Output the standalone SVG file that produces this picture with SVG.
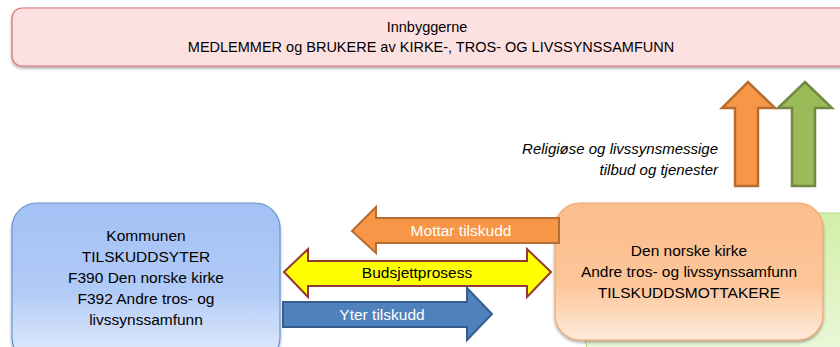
<svg xmlns="http://www.w3.org/2000/svg" width="840" height="347" viewBox="0 0 840 347">
<defs>
<style>
text{font-family:"Liberation Sans",Arial,sans-serif;fill:#000}
.t{font-size:14.5px;text-anchor:middle}
.b{font-size:15.5px;text-anchor:middle}
.w{fill:#fff;font-size:15.5px;text-anchor:middle}
.i{font-size:15px;font-style:italic;text-anchor:end}
</style>
<linearGradient id="gBlue" x1="0" y1="0" x2="0" y2="1">
<stop offset="0" stop-color="#a3c1f5"/><stop offset="0.55" stop-color="#b1cbf7"/><stop offset="1" stop-color="#e4edfc"/>
</linearGradient>
<linearGradient id="gOr" x1="0" y1="0" x2="0" y2="1">
<stop offset="0" stop-color="#fbbd8c"/><stop offset="0.6" stop-color="#fcc69a"/><stop offset="1" stop-color="#feeadb"/>
</linearGradient>
<linearGradient id="gGr" x1="0" y1="0" x2="0" y2="1">
<stop offset="0" stop-color="#d3efa8"/><stop offset="1" stop-color="#ecf8dc"/>
</linearGradient>
<filter id="sh" x="-10%" y="-10%" width="120%" height="130%">
<feGaussianBlur in="SourceAlpha" stdDeviation="1.5"/><feOffset dx="0" dy="2" result="o"/>
<feComponentTransfer><feFuncA type="linear" slope="0.35"/></feComponentTransfer>
<feMerge><feMergeNode/><feMergeNode in="SourceGraphic"/></feMerge>
</filter>
</defs>

<g id="innbyggerne">
<rect x="12" y="8" width="840" height="58" rx="10" fill="#fde1e1" stroke="#d7726e" stroke-width="1.2" filter="url(#sh)"/>
<text class="t" x="427" y="32">Innbyggerne</text>
<text class="t" x="431" y="52">MEDLEMMER og BRUKERE av KIRKE-, TROS- OG LIVSSYNSSAMFUNN</text>
</g>

<g id="green-box">
<rect x="585" y="213" width="290" height="150" rx="25" fill="url(#gGr)" stroke="#b3d98a" stroke-width="1"/>
</g>

<g id="kommunen">
<rect x="12" y="203" width="268" height="160" rx="25" fill="url(#gBlue)" stroke="#6a93cf" stroke-width="1.2" filter="url(#sh)"/>
<text class="b" x="146" y="241">Kommunen</text>
<text class="b" x="146" y="262">TILSKUDDSYTER</text>
<text class="b" x="146" y="283">F390 Den norske kirke</text>
<text class="b" x="146" y="304">F392 Andre tros- og</text>
<text class="b" x="146" y="325">livssynssamfunn</text>
</g>

<g id="mottakere">
<rect x="555" y="203" width="268" height="137" rx="25" fill="url(#gOr)" stroke="#f0a66c" stroke-width="1.2" filter="url(#sh)"/>
<text class="b" x="689" y="256">Den norske kirke</text>
<text class="b" x="689" y="277">Andre tros- og livssynssamfunn</text>
<text class="b" x="689" y="298">TILSKUDDSMOTTAKERE</text>
</g>

<g id="connectors">
<g id="mottar">
<polygon points="559,218 376,218 376,207 352,231 376,253 376,243 559,243" fill="#f79646" stroke="#b66d31" stroke-width="2" stroke-linejoin="miter"/>
<text class="w" x="461" y="236">Mottar tilskudd</text>
</g>
<g id="budsjett">
<polygon points="284,272 308,249 308,261 527,261 527,249 551,272 527,297 527,286 308,286 308,297" fill="#ffff00" stroke="#953735" stroke-width="2"/>
<text class="b" x="417" y="278">Budsjettprosess</text>
</g>
<g id="yter">
<polygon points="283,302 467,302 467,288 492,314 467,340 467,327 283,327" fill="#4f81bd" stroke="#385d8a" stroke-width="2"/>
<text class="w" x="382" y="320">Yter tilskudd</text>
</g>
<g id="up-orange">
<polygon points="735,186 735,108 722,108 748,82 775,108 758,108 758,186" fill="#f79646" stroke="#b66d31" stroke-width="2.5"/>
</g>
<g id="up-green">
<polygon points="792,186 792,108 778,108 805,82 832,108 815,108 815,186" fill="#9bbb59" stroke="#71893f" stroke-width="2.5"/>
</g>
<text class="i" x="718" y="154">Religiøse og livssynsmessige</text>
<text class="i" x="718" y="175">tilbud og tjenester</text>
</g>
</svg>
